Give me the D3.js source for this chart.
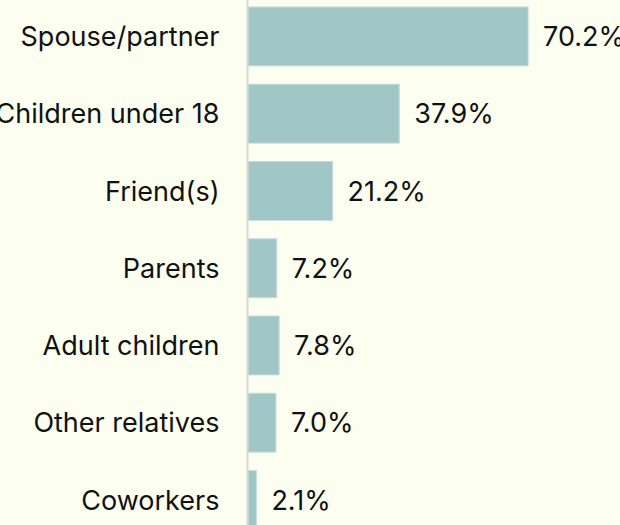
<!DOCTYPE html>
<html><head><meta charset="utf-8">
<script src="https://cdn.jsdelivr.net/npm/d3@7"></script>
<style>
html,body{margin:0;padding:0;background:#fcfff0;overflow:hidden;}
svg{display:block;}
</style></head>
<body><svg id="chart" width="620" height="525"></svg>
<script>
const categories = ["Spouse/partner","Children under 18","Friend(s)","Parents","Adult children","Other relatives","Coworkers"];
const values = [70.2, 37.9, 21.2, 7.2, 7.8, 7.0, 2.1];
const valueLabels = ["70.2%","37.9%","21.2%","7.2%","7.8%","7.0%","2.1%"];

const W = 620, H = 525;
const axisX = 247.5;
const svg = d3.select("#chart");
svg.append("rect").attr("width", W).attr("height", H).attr("fill", "#fcfff0");

const x = d3.scaleLinear().domain([0, 100]).range([248, 248 + 399]);
const y = d3.scaleBand().domain(categories).range([7, 529.4]).paddingInner(0.238).paddingOuter(0);

const data = categories.map((c, i) => ({c, v: values[i], l: valueLabels[i]}));
const font = "Inter, 'Noto Sans', sans-serif";

svg.append("g").selectAll("rect").data(data).join("rect")
  .attr("x", x(0))
  .attr("y", d => y(d.c))
  .attr("width", d => x(d.v) - x(0))
  .attr("height", y.bandwidth())
  .attr("fill", "#a1c6c6")
  .attr("stroke", "#c3dcd8").attr("stroke-width", 1);

svg.append("line").attr("x1", axisX).attr("x2", axisX).attr("y1", 0).attr("y2", H)
  .attr("stroke", "#d6d6d2").attr("stroke-width", 2);

svg.append("g").selectAll("text").data(data).join("text")
  .attr("x", axisX - 28)
  .attr("y", d => y(d.c) + y.bandwidth() / 2)
  .attr("dy", "0.36em")
  .attr("text-anchor", "end")
  .attr("font-family", font).attr("font-size", 27).attr("fill", "#111")
  .text(d => d.c);

svg.append("g").selectAll("text").data(data).join("text")
  .attr("x", d => x(d.v) + 15)
  .attr("y", d => y(d.c) + y.bandwidth() / 2)
  .attr("dy", "0.36em")
  .attr("font-family", font).attr("font-size", 27).attr("fill", "#111")
  .text(d => d.l);
</script></body></html>
